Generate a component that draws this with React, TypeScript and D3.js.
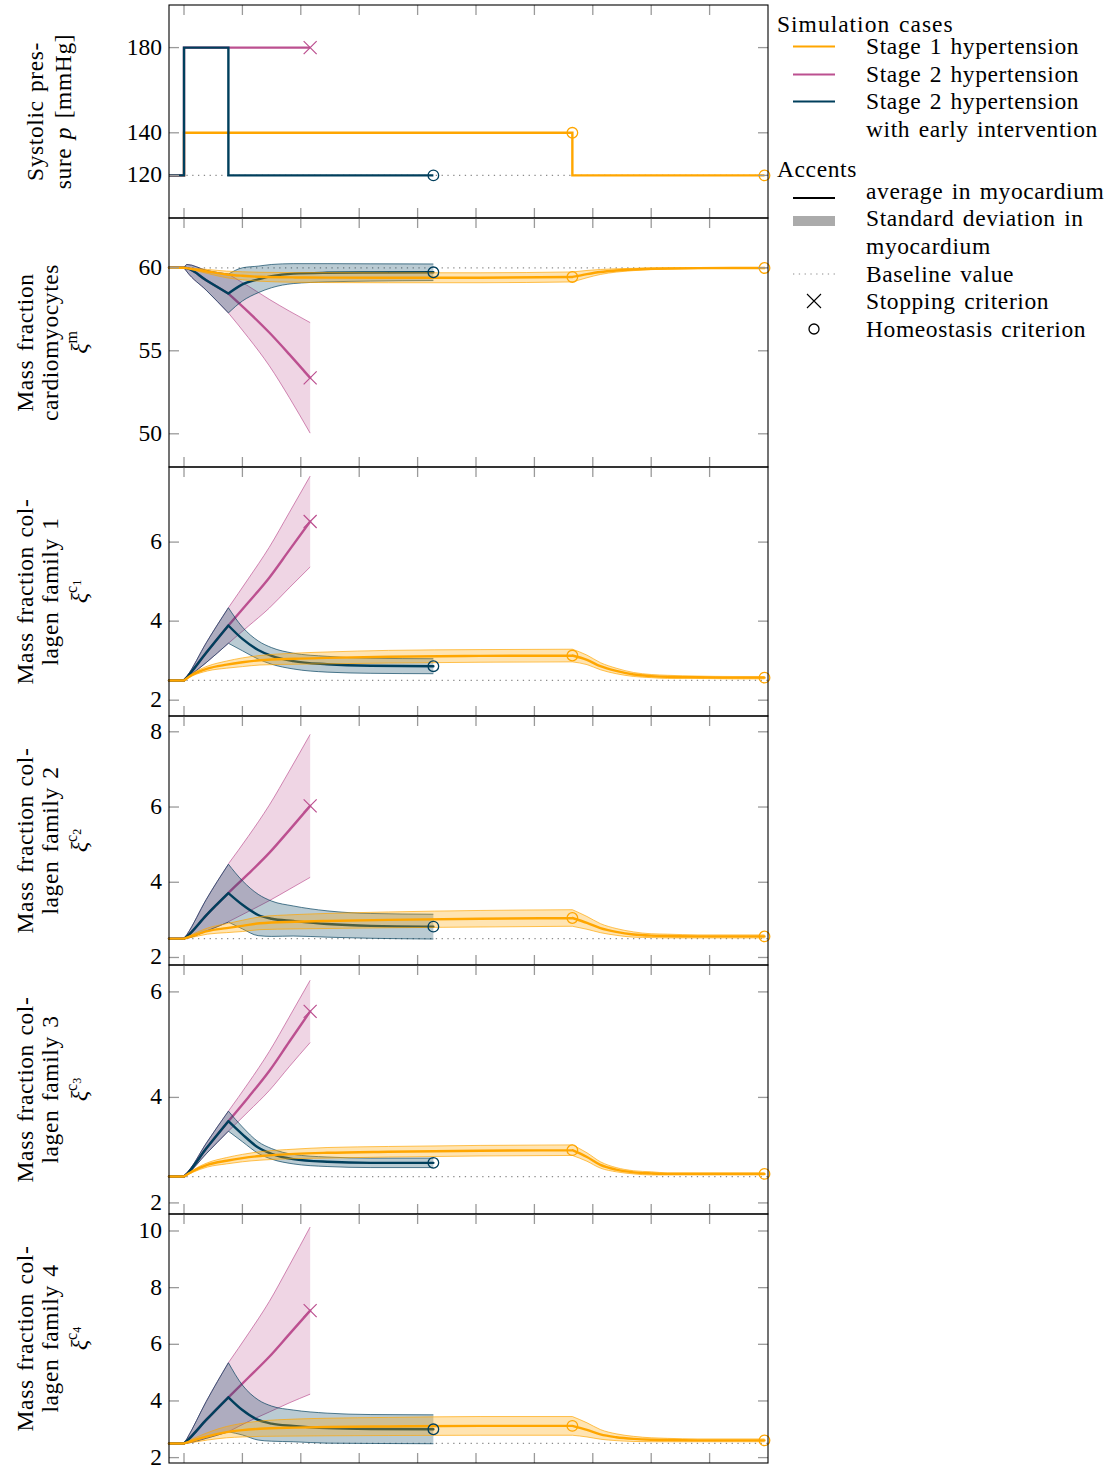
import React from 'react';
import * as d3 from 'd3';

const W = 1111;
const H = 1467;
const X0 = 169;
const X1 = 768;
const panelEdges = [5, 218, 467, 716, 965, 1214, 1463];

const C_ORANGE = '#ffa600';
const C_PINK = '#bc5090';
const C_BLUE = '#003f5c';
const C_TICK = '#9a9a9a';
const C_BASE = '#8c8c8c';
const FONT = '"Liberation Serif", "DejaVu Serif", serif';
const FS = 23.5;

// ---------- shared time axes ----------
const tStart = -0.257;
const tEnd = 10;
const xTicks = [0, 1, 2, 3, 4, 5, 6, 7, 8, 9];
const flatT = [tStart, 0];
const earlyT = [0, 0.05, 0.38, 0.76];
const pinkT = [0.76, 1.1, 1.46, 1.8, 2.16];
const blueT = [0.76, 1.0, 1.27, 1.5, 1.87, 2.45, 3.2, 4.27];
const orangeRiseT = [0, 0.15, 0.4, 0.73, 1.0, 1.3, 1.9, 2.45, 3.5, 5.07, 6.65];
const orangeDecayT = [6.65, 6.9, 7.13, 7.4, 7.7, 8.0, 8.28, 8.8, 9.4, 9.94];

// ---------- panel 1: systolic pressure ----------
const pressureTicks = [120, 140, 180];
const pressureBaseline = 120;
const pressureOrangeT = [tStart, 0, 0, 6.65, 6.65, 9.94];
const pressureOrange = [120, 120, 140, 140, 120, 120];
const pressurePinkT = [tStart, 0, 0, 2.16];
const pressurePink = [120, 120, 180, 180];
const pressureBlueT = [tStart, 0, 0, 0.76, 0.76, 4.27];
const pressureBlue = [120, 120, 180, 180, 120, 120];

// ---------- panel 2: cardiomyocytes ----------
const xiMTicks = [50, 55, 60];
const xiMBaseline = 60;
const xiMEarlyMean = [60, 59.98, 59.25, 58.45];
const xiMEarlySd = [0, 0.22, 0.6, 1.17];
const xiMPinkMean = [58.45, 57.35, 56.1, 54.8, 53.37];
const xiMPinkSd = [1.17, 1.55, 2.0, 2.6, 3.33];
const xiMBlueMean = [58.45, 59.0, 59.3, 59.5, 59.65, 59.7, 59.72, 59.73];
const xiMBlueSd = [1.17, 1.0, 0.8, 0.7, 0.6, 0.55, 0.52, 0.5];
const xiMOrangeRiseMean = [60, 59.92, 59.78, 59.6, 59.52, 59.46, 59.42, 59.41, 59.4, 59.4, 59.45];
const xiMOrangeRiseSd = [0, 0.05, 0.12, 0.2, 0.24, 0.27, 0.29, 0.3, 0.3, 0.3, 0.3];
const xiMOrangeDecayMean = [59.45, 59.62, 59.75, 59.84, 59.9, 59.94, 59.96, 59.98, 59.99, 59.99];
const xiMOrangeDecaySd = [0.3, 0.22, 0.15, 0.1, 0.07, 0.05, 0.04, 0.03, 0.02, 0.02];

// ---------- panel 3: collagen family 1 ----------
const xiC1Ticks = [2, 4, 6];
const xiC1EarlyMean = [2.5, 2.58, 3.2, 3.89];
const xiC1EarlySd = [0, 0.02, 0.25, 0.45];
const xiC1PinkMean = [3.89, 4.47, 5.1, 5.79, 6.52];
const xiC1PinkSd = [0.45, 0.6, 0.77, 0.95, 1.15];
const xiC1BlueMean = [3.89, 3.55, 3.27, 3.12, 2.99, 2.91, 2.87, 2.86];
const xiC1BlueSd = [0.45, 0.3, 0.23, 0.21, 0.2, 0.2, 0.19, 0.19];
const xiC1OrangeRiseMean = [2.5, 2.65, 2.8, 2.9, 2.96, 3.01, 3.05, 3.07, 3.1, 3.12, 3.13];
const xiC1OrangeRiseSd = [0, 0.03, 0.06, 0.09, 0.11, 0.12, 0.14, 0.15, 0.16, 0.16, 0.16];
const xiC1OrangeDecayMean = [3.13, 3.02, 2.86, 2.74, 2.65, 2.61, 2.59, 2.58, 2.57, 2.57];
const xiC1OrangeDecaySd = [0.16, 0.12, 0.09, 0.07, 0.05, 0.04, 0.04, 0.03, 0.03, 0.03];

// ---------- panel 4: collagen family 2 ----------
const xiC2Ticks = [2, 4, 6, 8];
const xiC2EarlyMean = [2.5, 2.56, 3.12, 3.71];
const xiC2EarlySd = [0, 0.05, 0.42, 0.77];
const xiC2PinkMean = [3.72, 4.22, 4.78, 5.38, 6.03];
const xiC2PinkSd = [0.77, 1.0, 1.27, 1.57, 1.9];
const xiC2BlueMean = [3.71, 3.4, 3.13, 3.03, 2.97, 2.89, 2.84, 2.82];
const xiC2BlueSd = [0.77, 0.64, 0.55, 0.47, 0.4, 0.35, 0.33, 0.33];
const xiC2OrangeRiseMean = [2.5, 2.58, 2.7, 2.78, 2.84, 2.91, 2.95, 2.97, 3.0, 3.03, 3.05];
const xiC2OrangeRiseSd = [0, 0.04, 0.08, 0.12, 0.15, 0.17, 0.19, 0.2, 0.21, 0.22, 0.22];
const xiC2OrangeDecayMean = [3.05, 2.92, 2.78, 2.68, 2.61, 2.58, 2.57, 2.56, 2.56, 2.56];
const xiC2OrangeDecaySd = [0.22, 0.17, 0.12, 0.09, 0.07, 0.05, 0.05, 0.04, 0.04, 0.04];

// ---------- panel 5: collagen family 3 ----------
const xiC3Ticks = [2, 4, 6];
const xiC3EarlyMean = [2.5, 2.55, 3.03, 3.55];
const xiC3EarlySd = [0, 0.01, 0.1, 0.19];
const xiC3PinkMean = [3.55, 4.0, 4.5, 5.05, 5.63];
const xiC3PinkSd = [0.19, 0.27, 0.37, 0.47, 0.59];
const xiC3BlueMean = [3.55, 3.3, 3.05, 2.93, 2.83, 2.78, 2.76, 2.76];
const xiC3BlueSd = [0.19, 0.14, 0.11, 0.1, 0.09, 0.09, 0.09, 0.09];
const xiC3OrangeRiseMean = [2.5, 2.6, 2.72, 2.8, 2.85, 2.89, 2.93, 2.95, 2.97, 2.99, 3.0];
const xiC3OrangeRiseSd = [0, 0.02, 0.04, 0.06, 0.07, 0.08, 0.09, 0.1, 0.1, 0.1, 0.1];
const xiC3OrangeDecayMean = [3.0, 2.87, 2.72, 2.63, 2.58, 2.56, 2.55, 2.55, 2.55, 2.55];
const xiC3OrangeDecaySd = [0.1, 0.08, 0.06, 0.04, 0.03, 0.03, 0.02, 0.02, 0.02, 0.02];

// ---------- panel 6: collagen family 4 ----------
const xiC4Ticks = [2, 4, 6, 8, 10];
const xiC4EarlyMean = [2.5, 2.59, 3.33, 4.13];
const xiC4EarlySd = [0, 0.08, 0.65, 1.22];
const xiC4PinkMean = [4.13, 4.82, 5.56, 6.35, 7.19];
const xiC4PinkSd = [1.22, 1.55, 1.95, 2.42, 2.95];
const xiC4BlueMean = [4.13, 3.68, 3.33, 3.2, 3.12, 3.04, 3.01, 3.0];
const xiC4BlueSd = [1.22, 0.88, 0.71, 0.62, 0.56, 0.53, 0.51, 0.51];
const xiC4OrangeRiseMean = [2.5, 2.6, 2.75, 2.9, 2.97, 3.02, 3.06, 3.08, 3.1, 3.12, 3.12];
const xiC4OrangeRiseSd = [0, 0.06, 0.13, 0.2, 0.24, 0.27, 0.3, 0.31, 0.32, 0.33, 0.33];
const xiC4OrangeDecayMean = [3.12, 2.98, 2.82, 2.72, 2.66, 2.63, 2.62, 2.61, 2.61, 2.61];
const xiC4OrangeDecaySd = [0.33, 0.25, 0.17, 0.12, 0.09, 0.07, 0.06, 0.05, 0.05, 0.05];

const collagenBaseline = 2.5;

// ---------- legend ----------
const caseLabels = ['Stage 1 hypertension', 'Stage 2 hypertension', 'Stage 2 hypertension'];
const caseColors = [C_ORANGE, C_PINK, C_BLUE];

type Pt = { t: number; m: number; s: number };
const zipPts = (t: number[], m: number[], s: number[]): Pt[] =>
  t.map((tt, i) => ({ t: tt, m: m[i], s: s[i] }));

type PanelCfg = {
  idx: number;
  domain: [number, number];
  ticks: number[];
  baseline: number;
  title: string[];
  sup: string;
  sub?: string;
  earlyMean: number[]; earlySd: number[];
  pinkMean: number[]; pinkSd: number[];
  blueMean: number[]; blueSd: number[];
  oRiseMean: number[]; oRiseSd: number[];
  oDecayMean: number[]; oDecaySd: number[];
};

const valuePanels: PanelCfg[] = [
  {
    idx: 1, domain: [48, 63], ticks: xiMTicks, baseline: xiMBaseline,
    title: ['Mass fraction', 'cardiomyocytes'], sup: 'm',
    earlyMean: xiMEarlyMean, earlySd: xiMEarlySd, pinkMean: xiMPinkMean, pinkSd: xiMPinkSd,
    blueMean: xiMBlueMean, blueSd: xiMBlueSd, oRiseMean: xiMOrangeRiseMean, oRiseSd: xiMOrangeRiseSd,
    oDecayMean: xiMOrangeDecayMean, oDecaySd: xiMOrangeDecaySd,
  },
  {
    idx: 2, domain: [1.6, 7.9], ticks: xiC1Ticks, baseline: collagenBaseline,
    title: ['Mass fraction col-', 'lagen family 1'], sup: 'c', sub: '1',
    earlyMean: xiC1EarlyMean, earlySd: xiC1EarlySd, pinkMean: xiC1PinkMean, pinkSd: xiC1PinkSd,
    blueMean: xiC1BlueMean, blueSd: xiC1BlueSd, oRiseMean: xiC1OrangeRiseMean, oRiseSd: xiC1OrangeRiseSd,
    oDecayMean: xiC1OrangeDecayMean, oDecaySd: xiC1OrangeDecaySd,
  },
  {
    idx: 3, domain: [1.8, 8.42], ticks: xiC2Ticks, baseline: collagenBaseline,
    title: ['Mass fraction col-', 'lagen family 2'], sup: 'c', sub: '2',
    earlyMean: xiC2EarlyMean, earlySd: xiC2EarlySd, pinkMean: xiC2PinkMean, pinkSd: xiC2PinkSd,
    blueMean: xiC2BlueMean, blueSd: xiC2BlueSd, oRiseMean: xiC2OrangeRiseMean, oRiseSd: xiC2OrangeRiseSd,
    oDecayMean: xiC2OrangeDecayMean, oDecaySd: xiC2OrangeDecaySd,
  },
  {
    idx: 4, domain: [1.79, 6.51], ticks: xiC3Ticks, baseline: collagenBaseline,
    title: ['Mass fraction col-', 'lagen family 3'], sup: 'c', sub: '3',
    earlyMean: xiC3EarlyMean, earlySd: xiC3EarlySd, pinkMean: xiC3PinkMean, pinkSd: xiC3PinkSd,
    blueMean: xiC3BlueMean, blueSd: xiC3BlueSd, oRiseMean: xiC3OrangeRiseMean, oRiseSd: xiC3OrangeRiseSd,
    oDecayMean: xiC3OrangeDecayMean, oDecaySd: xiC3OrangeDecaySd,
  },
  {
    idx: 5, domain: [1.81, 10.6], ticks: xiC4Ticks, baseline: collagenBaseline,
    title: ['Mass fraction col-', 'lagen family 4'], sup: 'c', sub: '4',
    earlyMean: xiC4EarlyMean, earlySd: xiC4EarlySd, pinkMean: xiC4PinkMean, pinkSd: xiC4PinkSd,
    blueMean: xiC4BlueMean, blueSd: xiC4BlueSd, oRiseMean: xiC4OrangeRiseMean, oRiseSd: xiC4OrangeRiseSd,
    oDecayMean: xiC4OrangeDecayMean, oDecaySd: xiC4OrangeDecaySd,
  },
];

const x = d3.scaleLinear().domain([tStart, tEnd]).range([X0, X1]);

const textStyle = { fontFamily: FONT, letterSpacing: '0.6px', wordSpacing: '2px' };

function Cross({ cx, cy, color, r = 6.5, w = 1.2 }: any) {
  return (
    <path d={`M${cx - r},${cy - r}L${cx + r},${cy + r}M${cx - r},${cy + r}L${cx + r},${cy - r}`}
      stroke={color} strokeWidth={w} fill="none" />
  );
}
function Ring({ cx, cy, color, r = 5.3 }: any) {
  return <circle cx={cx} cy={cy} r={r} stroke={color} strokeWidth={1.3} fill="none" />;
}

function Frame({ top, bottom, ticks, y }: any) {
  return (
    <g>
      {xTicks.map((t) => (
        <g key={'xt' + t}>
          <line x1={x(t)} x2={x(t)} y1={top} y2={top + 10} stroke={C_TICK} strokeWidth={1.3} />
          <line x1={x(t)} x2={x(t)} y1={bottom - 10} y2={bottom} stroke={C_TICK} strokeWidth={1.3} />
        </g>
      ))}
      {ticks.map((v: number) => (
        <g key={'yt' + v}>
          <line x1={X0} x2={X0 + 10} y1={y(v)} y2={y(v)} stroke={C_TICK} strokeWidth={1.3} />
          <line x1={X1 - 10} x2={X1} y1={y(v)} y2={y(v)} stroke={C_TICK} strokeWidth={1.3} />
          <text x={162} y={y(v) + 7} textAnchor="end" fontSize={FS} fill="#000"
            style={{ fontFamily: FONT }}>{v}</text>
        </g>
      ))}
      <rect x={X0} y={top} width={X1 - X0} height={bottom - top} fill="none" stroke="#000" strokeWidth={1.1} />
    </g>
  );
}

function PressurePanel() {
  const top = panelEdges[0];
  const bottom = panelEdges[1];
  const y = d3.scaleLinear().domain([100, 200]).range([bottom, top]);
  const line = d3.line<[number, number]>().x((d) => x(d[0])).y((d) => y(d[1]));
  const mk = (t: number[], v: number[]) => line(t.map((tt, i) => [tt, v[i]] as [number, number])) || '';
  const cy = (top + bottom) / 2;
  return (
    <g>
      <line x1={X0} x2={X1} y1={y(pressureBaseline)} y2={y(pressureBaseline)} stroke={C_BASE}
        strokeWidth={1.2} strokeDasharray="1.3 4.5" />
      <path d={mk(pressureOrangeT, pressureOrange)} stroke={C_ORANGE} strokeWidth={2.4} fill="none" />
      <path d={mk(pressurePinkT, pressurePink)} stroke={C_PINK} strokeWidth={2.4} fill="none" />
      <path d={mk(pressureBlueT, pressureBlue)} stroke={C_BLUE} strokeWidth={2.4} fill="none" />
      <Cross cx={x(pressurePinkT[pressurePinkT.length - 1])} cy={y(pressurePink[pressurePink.length - 1])} color={C_PINK} />
      <Ring cx={x(pressureBlueT[pressureBlueT.length - 1])} cy={y(pressureBlue[pressureBlue.length - 1])} color={C_BLUE} />
      <Ring cx={x(pressureOrangeT[3])} cy={y(pressureOrange[3])} color={C_ORANGE} />
      <Ring cx={x(pressureOrangeT[pressureOrangeT.length - 1])} cy={y(pressureOrange[pressureOrange.length - 1])} color={C_ORANGE} />
      <Frame top={top} bottom={bottom} ticks={pressureTicks} y={y} />
      <text transform={`translate(43,${cy}) rotate(-90)`} textAnchor="middle" fontSize={FS} style={textStyle}>Systolic pres-</text>
      <text transform={`translate(71,${cy}) rotate(-90)`} textAnchor="middle" fontSize={FS} style={textStyle}>
        sure <tspan fontStyle="italic">p</tspan> [mmHg]
      </text>
    </g>
  );
}

function ValuePanel({ cfg }: { cfg: PanelCfg }) {
  const top = panelEdges[cfg.idx];
  const bottom = panelEdges[cfg.idx + 1];
  const y = d3.scaleLinear().domain(cfg.domain).range([bottom, top]);
  const curve = d3.curveMonotoneX;
  const area = d3.area<Pt>().x((p) => x(p.t)).y0((p) => y(p.m - p.s)).y1((p) => y(p.m + p.s)).curve(curve);
  const lineM = d3.line<Pt>().x((p) => x(p.t)).y((p) => y(p.m)).curve(curve);
  const lineU = d3.line<Pt>().x((p) => x(p.t)).y((p) => y(p.m + p.s)).curve(curve);
  const lineL = d3.line<Pt>().x((p) => x(p.t)).y((p) => y(p.m - p.s)).curve(curve);

  const flat = zipPts(flatT, [cfg.baseline, cfg.baseline], [0, 0]);
  const early = zipPts(earlyT, cfg.earlyMean, cfg.earlySd);
  const pink = zipPts(pinkT, cfg.pinkMean, cfg.pinkSd);
  const blue = zipPts(blueT, cfg.blueMean, cfg.blueSd);
  const oRise = zipPts(orangeRiseT, cfg.oRiseMean, cfg.oRiseSd);
  const oDecay = zipPts(orangeDecayT, cfg.oDecayMean, cfg.oDecaySd);

  const series = [
    { color: C_PINK, segs: [flat, early, pink], op: 0.24 },
    { color: C_BLUE, segs: [flat, early, blue], op: 0.27 },
    { color: C_ORANGE, segs: [flat, oRise, oDecay], op: 0.3 },
  ];

  const cy = (top + bottom) / 2;
  const last = (a: Pt[]) => a[a.length - 1];

  return (
    <g>
      <line x1={X0} x2={X1} y1={y(cfg.baseline)} y2={y(cfg.baseline)} stroke={C_BASE}
        strokeWidth={1.2} strokeDasharray="1.3 4.5" />
      {series.map((s, i) => (
        <g key={i}>
          <path d={s.segs.slice(1).map((sg) => area(sg) || '').join(' ')} fill={s.color} fillOpacity={s.op} stroke="none" />
          <path d={s.segs.slice(1).map((sg) => lineU(sg) || '').join(' ')} fill="none" stroke={s.color} strokeOpacity={0.75} strokeWidth={0.9} />
          <path d={s.segs.slice(1).map((sg) => lineL(sg) || '').join(' ')} fill="none" stroke={s.color} strokeOpacity={0.75} strokeWidth={0.9} />
          <path d={s.segs.map((sg) => lineM(sg) || '').join(' ')} fill="none" stroke={s.color} strokeWidth={2.4}
            strokeLinecap="round" strokeLinejoin="round" />
        </g>
      ))}
      <Cross cx={x(last(pink).t)} cy={y(last(pink).m)} color={C_PINK} />
      <Ring cx={x(last(blue).t)} cy={y(last(blue).m)} color={C_BLUE} />
      <Ring cx={x(last(oRise).t)} cy={y(last(oRise).m)} color={C_ORANGE} />
      <Ring cx={x(last(oDecay).t)} cy={y(last(oDecay).m)} color={C_ORANGE} />
      <Frame top={top} bottom={bottom} ticks={cfg.ticks} y={y} />
      <text transform={`translate(33,${cy}) rotate(-90)`} textAnchor="middle" fontSize={FS} style={textStyle}>{cfg.title[0]}</text>
      <text transform={`translate(58,${cy}) rotate(-90)`} textAnchor="middle" fontSize={FS} style={textStyle}>{cfg.title[1]}</text>
      <text transform={`translate(87,${cy}) rotate(-90)`} textAnchor="middle" fontSize={24} style={{ fontFamily: FONT }}>
        <tspan fontStyle="italic">ξ</tspan>
        <tspan fontSize={16} dy={-10}>{cfg.sup}</tspan>
        {cfg.sub ? <tspan fontSize={12} dy={4}>{cfg.sub}</tspan> : null}
      </text>
    </g>
  );
}

function Legend() {
  const lx0 = 793;
  const lx1 = 835;
  const tx = 866;
  const caseY = [46, 74, 101];
  return (
    <g fontSize={FS} style={textStyle}>
      <text x={777} y={32} style={{ letterSpacing: '1px' }}>Simulation cases</text>
      {caseLabels.map((lab, i) => (
        <g key={i}>
          <line x1={lx0} x2={lx1} y1={caseY[i] + 0.5} y2={caseY[i] + 0.5} stroke={caseColors[i]} strokeWidth={2.2} />
          <text x={tx} y={caseY[i] + 7.5}>{lab}</text>
        </g>
      ))}
      <text x={tx} y={129 + 7.5}>with early intervention</text>
      <text x={777} y={177}>Accents</text>
      <line x1={lx0} x2={lx1} y1={198} y2={198} stroke="#000" strokeWidth={2.2} />
      <text x={tx} y={191 + 7.5}>average in myocardium</text>
      <rect x={lx0} y={216} width={lx1 - lx0} height={10} fill="#ababab" />
      <text x={tx} y={218 + 7.5}>Standard deviation in</text>
      <text x={tx} y={246 + 7.5}>myocardium</text>
      <line x1={lx0} x2={lx1} y1={274} y2={274} stroke={C_BASE} strokeWidth={1.1} strokeDasharray="1.3 4.5" />
      <text x={tx} y={274 + 7.5}>Baseline value</text>
      <Cross cx={814} cy={301} color="#000" r={7} w={1.1} />
      <text x={tx} y={301 + 7.5}>Stopping criterion</text>
      <Ring cx={814} cy={329} color="#000" r={5} />
      <text x={tx} y={329 + 7.5}>Homeostasis criterion</text>
    </g>
  );
}

export default function App() {
  return (
    <svg width={W} height={H} viewBox={`0 0 ${W} ${H}`}
      style={{ position: 'absolute', left: 0, top: 0, display: 'block', background: '#fff', fontFamily: FONT }}>
      <rect x={0} y={0} width={W} height={H} fill="#fff" />
      <PressurePanel />
      {valuePanels.map((cfg) => (
        <ValuePanel key={cfg.idx} cfg={cfg} />
      ))}
      <Legend />
    </svg>
  );
}
